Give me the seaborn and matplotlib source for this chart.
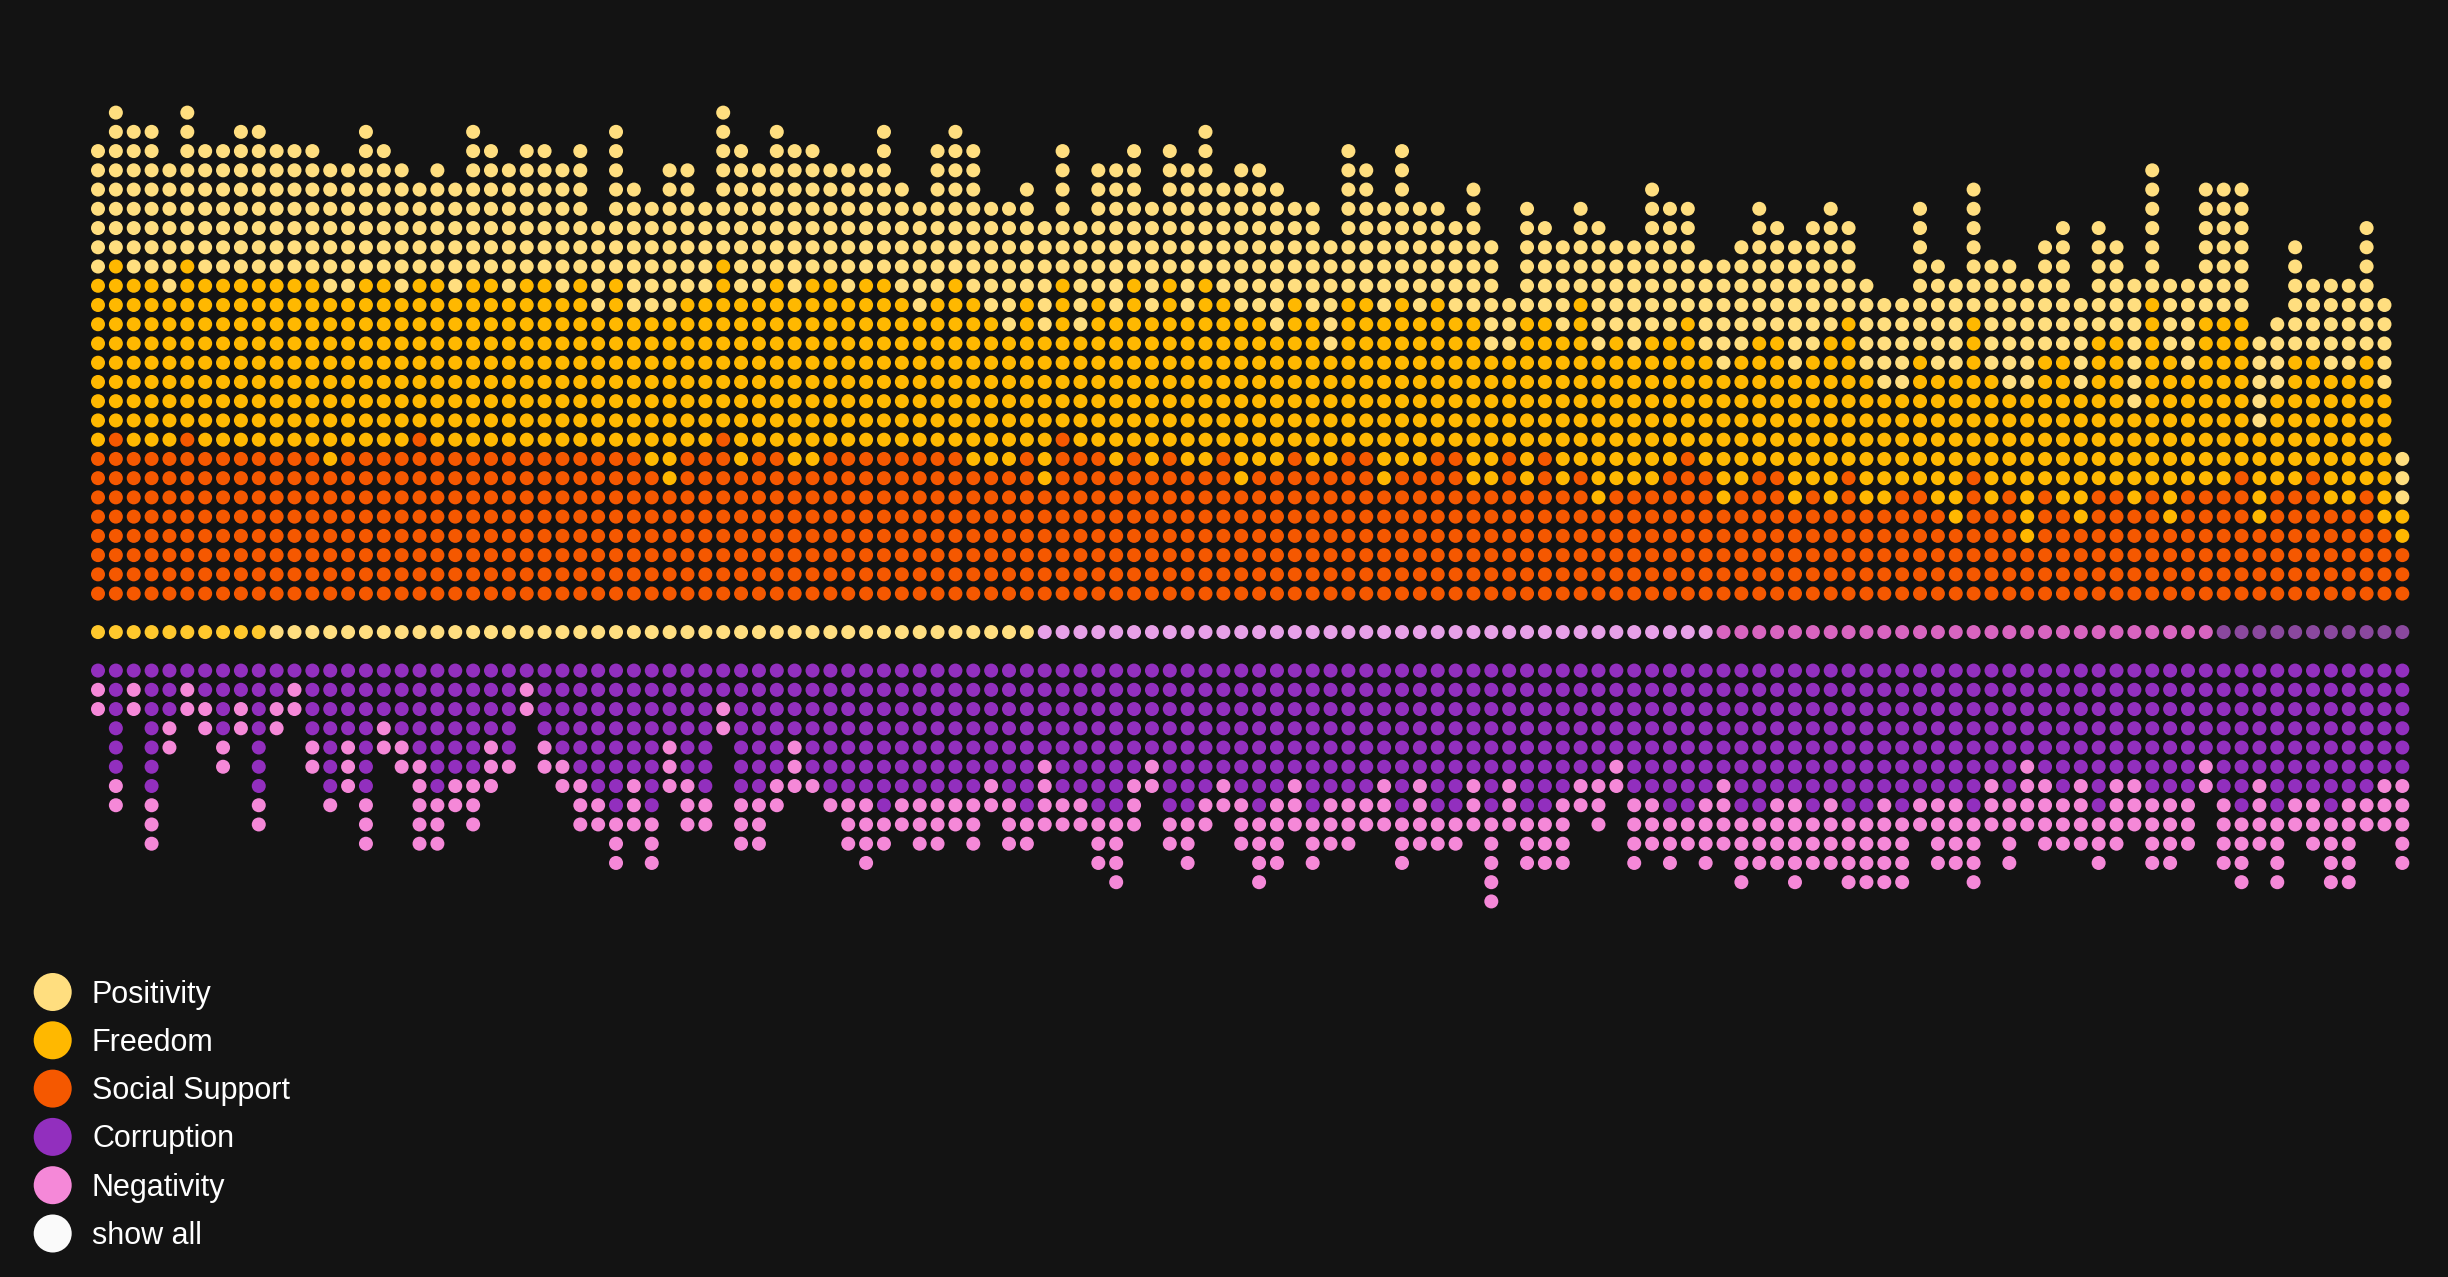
import pandas as pd
import numpy as np
import matplotlib
matplotlib.use('Agg')
import matplotlib.pyplot as plt
import seaborn as sns

# counts of dots per column (one column per country)
positivity = [7, 8, 8, 8, 7, 8, 7, 7, 8, 8, 7, 7, 7, 7, 7, 8, 7, 7, 5, 6, 6, 8,
              7, 7, 7, 7, 7, 7, 5, 8, 7, 6, 8, 7, 5, 8, 8, 7, 8, 8, 7, 6, 7, 6,
              8, 6, 6, 8, 8, 8, 6, 7, 6, 6, 7, 6, 7, 8, 7, 6, 7, 8, 8, 6, 8, 8,
              8, 5, 6, 6, 8, 7, 6, 8, 6, 5, 5, 7, 6, 3, 6, 5, 5, 5, 7, 5, 6,
              8, 7, 6, 5, 6, 6, 7, 6, 7, 7, 7, 5, 5, 5, 5, 8, 6, 5, 7, 6, 7, 6,
              6, 7, 5, 6, 5, 7, 7, 4, 5, 7, 7, 7, 5, 4, 6, 4, 5, 5, 7, 5, 3]
freedom = [9, 9, 9, 9, 8, 9, 9, 9, 9, 9, 9, 9, 9, 9, 8, 9, 9, 8, 8, 9, 8, 9,
           9, 8, 9, 9, 8, 9, 7, 9, 7, 8, 9, 8, 8, 9, 9, 8, 9, 9, 10, 9, 8, 9,
           9, 8, 7, 8, 9, 9, 8, 7, 8, 8, 8, 6, 8, 8, 9, 8, 9, 8, 10, 8, 9, 8,
           7, 8, 8, 6, 8, 8, 9, 9, 8, 8, 7, 9, 7, 5, 9, 7, 8, 9, 8, 8, 7,
           8, 7, 7, 6, 7, 7, 7, 7, 7, 7, 9, 8, 7, 6, 5, 7, 7, 8, 8, 7, 5, 8,
           7, 8, 7, 8, 8, 5, 10, 9, 6, 9, 9, 8, 5, 5, 7, 6, 7, 7, 7, 7, 2]
social_support = [8, 9, 8, 8, 8, 9, 8, 8, 8, 8, 8, 8, 8, 7, 8, 8, 8, 8, 9, 8, 8, 8,
                  8, 8, 8, 8, 8, 8, 8, 8, 8, 7, 6, 8, 8, 9, 7, 8, 8, 7, 7, 8, 8, 8,
                  8, 8, 8, 8, 8, 7, 7, 7, 8, 6, 9, 8, 8, 7, 8, 7, 8, 7, 7, 8, 6, 7,
                  7, 8, 7, 7, 8, 8, 6, 7, 7, 8, 8, 6, 6, 8, 6, 8, 6, 7, 5, 6, 6,
                  6, 7, 8, 7, 5, 6, 7, 7, 5, 6, 5, 7, 5, 5, 6, 6, 5, 4, 7, 5, 6, 3,
                  6, 5, 4, 6, 6, 5, 6, 4, 6, 6, 6, 7, 4, 6, 6, 7, 5, 5, 6, 4, 3]
corruption = [1, 6, 1, 7, 3, 1, 2, 4, 2, 7, 2, 1, 4, 7, 4, 7, 3, 4, 5, 7, 6, 6,
              4, 5, 1, 4, 5, 6, 7, 8, 6, 8, 4, 6, 7, 2, 7, 7, 6, 4, 6, 7, 7, 7,
              8, 7, 7, 7, 7, 7, 6, 7, 8, 5, 7, 7, 8, 8, 6, 5, 8, 8, 7, 6, 7, 8,
              7, 6, 8, 7, 7, 7, 6, 8, 6, 8, 8, 6, 8, 6, 8, 8, 7, 6, 6, 5, 7,
              7, 8, 8, 7, 6, 8, 8, 7, 7, 8, 7, 8, 8, 7, 8, 7, 7, 7, 8, 6, 7, 5,
              6, 7, 6, 8, 6, 6, 7, 7, 7, 5, 7, 8, 6, 8, 7, 7, 8, 7, 7, 6, 6]
negativity = [2, 2, 2, 3, 2, 2, 2, 2, 2, 2, 2, 2, 2, 1, 3, 3, 2, 2, 5, 3, 2, 3,
              3, 1, 2, 2, 2, 3, 2, 3, 3, 3, 3, 3, 2, 2, 3, 3, 2, 3, 1, 1, 3, 4,
              2, 2, 3, 3, 2, 3, 2, 3, 2, 4, 2, 2, 3, 4, 3, 2, 2, 3, 2, 2, 3, 4,
              4, 3, 3, 3, 3, 2, 3, 3, 4, 2, 2, 3, 5, 3, 3, 3, 4, 2, 3, 2, 4,
              3, 3, 2, 4, 4, 4, 3, 4, 5, 3, 4, 4, 4, 5, 4, 2, 4, 4, 4, 3, 4, 4,
              4, 3, 4, 3, 4, 3, 4, 4, 3, 2, 4, 4, 4, 4, 2, 3, 4, 5, 2, 3, 5]
# group shown in the middle row, one entry per column
middle_group = [0] * 10 + [1] * 43 + [2] * 38 + [3] * 28 + [4] * 11

legend_labels = ['Positivity', 'Freedom', 'Social Support', 'Corruption', 'Negativity', 'show all']

palette = {
    'Positivity': '#FFDE7F',
    'Freedom': '#FFB800',
    'Social Support': '#F55800',
    'Corruption': '#922FBE',
    'Negativity': '#F588D8',
    'show all': '#FAFAFA',
    'g0': '#FFC82C',
    'g1': '#FFDE7F',
    'g2': '#E7A0E8',
    'g3': '#D864C0',
    'g4': '#8A489E',
}
bg = '#131313'

# one row per dot: column index, level, category
rows = []
for i in range(len(positivity)):
    level = 0
    for name, n in (('Social Support', social_support[i]),
                    ('Freedom', freedom[i]),
                    ('Positivity', positivity[i])):
        for _ in range(n):
            rows.append((i, level, name))
            level += 1
    rows.append((i, -2, 'g%d' % middle_group[i]))
    level = -4
    for name, n in (('Corruption', corruption[i]), ('Negativity', negativity[i])):
        for _ in range(n):
            rows.append((i, level, name))
            level -= 1
df = pd.DataFrame(rows, columns=['col', 'level', 'kind'])

W, H, DPI = 2448, 1277, 100
fig = plt.figure(figsize=(W / DPI, H / DPI), dpi=DPI, facecolor=bg)
ax = fig.add_axes([0, 0, 1, 1])
ax.set_facecolor(bg)

dot_px = 14
sns.scatterplot(data=df, x='col', y='level', hue='kind', palette=palette,
                s=(dot_px * 72 / DPI) ** 2, linewidth=0, legend=False, ax=ax)

# pixel layout: column 0 at x=98px, 17.86px apart; level 0 at y=593.6px, 19.24px apart
dx, x0 = 17.863, 98
dy, y0 = 19.24, 593.6
ax.set_xlim(-x0 / dx, (W - x0) / dx)
ax.set_ylim(-(H - y0) / dy, y0 / dy)
ax.axis('off')

# legend drawn in pixel space
lax = fig.add_axes([0, 0, 1, 1])
lax.set_xlim(0, W)
lax.set_ylim(H, 0)
lax.axis('off')
leg = pd.DataFrame({'x': 52.7, 'y': 992 + 48.3 * np.arange(len(legend_labels)),
                    'kind': legend_labels})
sns.scatterplot(data=leg, x='x', y='y', hue='kind', palette=palette,
                s=(38 * 72 / DPI) ** 2, linewidth=0, legend=False, ax=lax)
for _, r in leg.iterrows():
    lax.text(92, r['y'] + 10.5, r['kind'], color='white', fontsize=22,
             family=['Liberation Sans', 'DejaVu Sans'], va='baseline', ha='left')
lax.set_xlim(0, W)
lax.set_ylim(H, 0)

fig.savefig('out.png', dpi=DPI, facecolor=bg)
